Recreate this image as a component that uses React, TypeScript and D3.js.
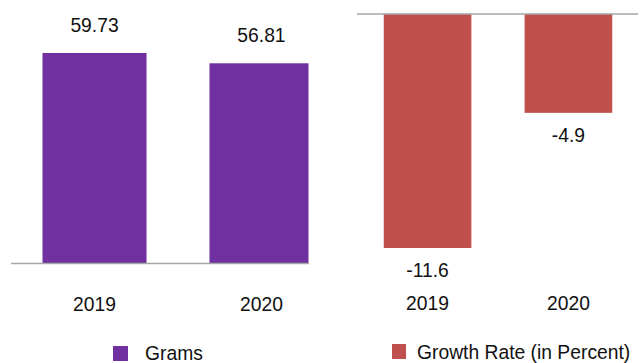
import React from "react";
import * as d3 from "d3";

const years = ["2019", "2020"];
const grams = [59.73, 56.81];
const growth = [-11.6, -4.9];
const gramsLabels = ["59.73", "56.81"];
const growthLabels = ["-11.6", "-4.9"];

const W = 640;
const H = 363;
const FONT = "'Liberation Sans', Arial, sans-serif";
const PURPLE = "#7030A0";
const RED = "#C0504D";
const AXIS = "#A6A6A6";

export default function App() {
  // Left panel
  const xL = d3.scaleBand().domain(years).range([11, 345]).paddingInner(0.377).paddingOuter(0.1886);
  const yL = d3.scaleLinear().domain([0, 59.73]).range([263.5, 53]);
  // Right panel
  const xR = d3.scaleBand().domain(years).range([357, 639]).paddingInner(0.378).paddingOuter(0.19);
  const yR = d3.scaleLinear().domain([0, -11.6]).range([14, 248]);

  const lw = xL.bandwidth();
  const rw = xR.bandwidth();

  return (
    <svg width={W} height={H} style={{ position: "absolute", left: 0, top: 0 }} fontFamily={FONT}>
      <rect width={W} height={H} fill="#fff" />
      {years.map((y, i) => {
        const x0 = xL(y) as number;
        const w = i === 0 ? lw : lw - 5;
        return (
          <g key={"l" + y}>
            <rect x={x0} y={yL(grams[i])} width={w} height={yL(0) - yL(grams[i])} fill={PURPLE} />
            <text x={x0 + lw / 2} y={yL(grams[i]) - 21} textAnchor="middle" fontSize={19.3} fill="#111">
              {gramsLabels[i]}
            </text>
            <text x={x0 + lw / 2} y={311} textAnchor="middle" fontSize={19.3} fill="#111">
              {y}
            </text>
          </g>
        );
      })}
      <line x1={11} x2={309} y1={yL(0)} y2={yL(0)} stroke={AXIS} strokeWidth={1.5} />
      {years.map((y, i) => {
        const x0 = xR(y) as number;
        return (
          <g key={"r" + y}>
            <rect x={x0} y={yR(0)} width={rw} height={yR(growth[i]) - yR(0)} fill={RED} />
            <text x={x0 + rw / 2} y={yR(growth[i]) + 29} textAnchor="middle" fontSize={19.3} fill="#111">
              {growthLabels[i]}
            </text>
            <text x={x0 + rw / 2} y={310} textAnchor="middle" fontSize={19.3} fill="#111">
              {y}
            </text>
          </g>
        );
      })}
      <line x1={357} x2={638} y1={yR(0)} y2={yR(0)} stroke={AXIS} strokeWidth={1.5} />
      <rect x={113} y={346} width={15} height={15} fill={PURPLE} />
      <text x={145} y={360} fontSize={19.3} fill="#111">Grams</text>
      <rect x={392} y={344} width={14} height={15} fill={RED} />
      <text x={417} y={359} fontSize={19.3} fill="#111">Growth Rate (in Percent)</text>
    </svg>
  );
}
